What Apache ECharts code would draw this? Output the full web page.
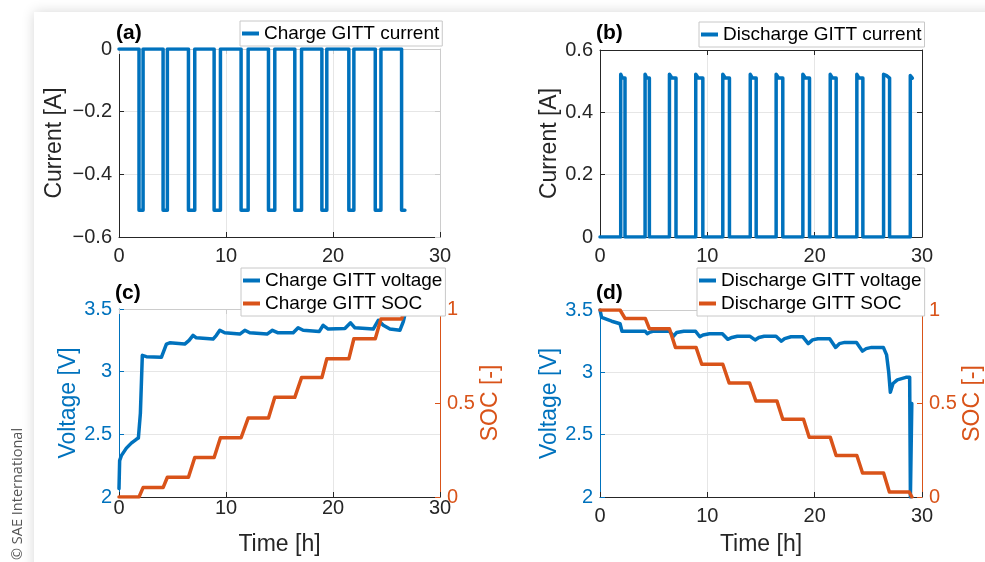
<!DOCTYPE html>
<html>
<head>
<meta charset="utf-8">
<script src="https://cdn.jsdelivr.net/npm/echarts@6/dist/echarts.min.js"></script>
<style>
  html, body { margin:0; padding:0; background:#ffffff; width:985px; height:562px; overflow:hidden; }
  #card { position:absolute; left:34px; top:12px; width:1000px; height:600px; background:#ffffff;
          box-shadow: 0 0 12px rgba(0,0,0,0.16); }
  #chart { position:absolute; left:0; top:0; width:985px; height:562px; }
</style>
</head>
<body>
<div id="card"></div>
<div id="chart"></div>
<script>
// ---------------- data (time in h) ----------------
const timeTicks = [0, 10, 20, 30];

const chargeCurrent = [
  [0,0],[1.87,0],[1.87,-0.515],[2.25,-0.515],[2.25,0],
  [4.12,0],[4.12,-0.515],[4.52,-0.515],[4.52,0],
  [6.49,0],[6.49,-0.515],[7.08,-0.515],[7.08,0],
  [8.89,0],[8.89,-0.515],[9.48,-0.515],[9.48,0],
  [11.41,0],[11.41,-0.515],[12.07,-0.515],[12.07,0],
  [13.97,0],[13.97,-0.515],[14.56,-0.515],[14.56,0],
  [16.43,0],[16.43,-0.515],[17.06,-0.515],[17.06,0],
  [18.96,0],[18.96,-0.515],[19.42,-0.515],[19.42,0],
  [21.48,0],[21.48,-0.515],[21.95,-0.515],[21.95,0],
  [23.95,0],[23.95,-0.515],[24.48,-0.515],[24.48,0],
  [26.41,0],[26.41,-0.515],[26.72,-0.515]
];

const dischargeCurrent = [
  [0,0],[1.93,0],[1.93,0.522],[2.08,0.51],[2.33,0.51],[2.33,0],
  [4.2,0],[4.2,0.522],[4.35,0.51],[4.6,0.51],[4.6,0],
  [6.47,0],[6.47,0.522],[6.7,0.51],[7.08,0.51],[7.08,0],
  [8.92,0],[8.92,0.522],[9.15,0.51],[9.58,0.51],[9.58,0],
  [11.44,0],[11.44,0.522],[11.67,0.51],[12.06,0.51],[12.06,0],
  [14.0,0],[14.0,0.522],[14.2,0.51],[14.55,0.51],[14.55,0],
  [16.41,0],[16.41,0.522],[16.64,0.51],[17.03,0.51],[17.03,0],
  [18.9,0],[18.9,0.522],[19.13,0.51],[19.52,0.51],[19.52,0],
  [21.45,0],[21.45,0.522],[21.66,0.51],[22.0,0.51],[22.0,0],
  [23.93,0],[23.93,0.522],[24.13,0.51],[24.49,0.51],[24.49,0],
  [26.42,0],[26.42,0.522],[26.7,0.518],[26.98,0.51],[26.98,0],
  [28.91,0],[28.91,0.518],[29.1,0.51]
];

const chargeVoltage = [
  [0,2.067],[0.06,2.29],[0.22,2.33],[0.69,2.39],[1.15,2.43],[1.62,2.46],[1.81,2.47],
  [2.0,2.67],[2.18,3.13],[2.3,3.14],[2.56,3.12],[3.96,3.115],[4.12,3.12],
  [4.43,3.22],[4.74,3.23],[6.14,3.22],[6.55,3.25],[6.92,3.29],[7.23,3.27],
  [8.79,3.26],[9.1,3.29],[9.42,3.33],[9.88,3.31],[11.29,3.30],[11.76,3.33],
  [12.22,3.31],[13.84,3.30],[14.34,3.33],[14.87,3.31],[16.28,3.31],[16.74,3.35],
  [17.21,3.33],[18.71,3.32],[19.08,3.37],[19.55,3.34],[21.11,3.345],[21.64,3.39],
  [22.05,3.35],[23.76,3.34],[24.23,3.41],[24.7,3.37],[25.32,3.34],[26.25,3.33],
  [26.57,3.40],[26.82,3.49]
];

const chargeSOC = [
  [0,0],[1.87,0],[2.25,0.05],[4.12,0.05],[4.52,0.105],[6.49,0.105],[7.08,0.21],
  [8.89,0.21],[9.48,0.315],[11.41,0.315],[12.07,0.42],[13.97,0.42],[14.56,0.53],
  [16.43,0.53],[17.06,0.635],[18.96,0.635],[19.42,0.735],[21.48,0.735],[21.95,0.842],
  [23.95,0.842],[24.48,0.947],[26.41,0.947],[26.72,1.0]
];

const dischargeVoltage = [
  [0,3.5],[0.15,3.44],[0.3,3.43],[1.09,3.41],[1.87,3.39],[1.93,3.37],[2.05,3.33],
  [4.2,3.33],[4.4,3.31],[4.6,3.32],[5.0,3.33],[6.45,3.33],[6.85,3.29],[7.15,3.32],
  [7.8,3.33],[8.9,3.33],[9.3,3.285],[9.6,3.30],[10.2,3.31],[11.4,3.31],[11.9,3.265],
  [12.3,3.28],[12.8,3.29],[13.95,3.29],[14.45,3.26],[14.8,3.28],[15.3,3.29],
  [16.4,3.29],[16.9,3.25],[17.2,3.27],[17.8,3.285],[18.9,3.285],[19.4,3.23],
  [19.8,3.26],[20.3,3.27],[21.4,3.27],[21.95,3.20],[22.3,3.23],[22.8,3.24],
  [23.9,3.24],[24.45,3.17],[24.8,3.19],[25.3,3.20],[26.4,3.20],[26.7,3.14],
  [26.9,3.0],[27.05,2.84],[27.3,2.91],[27.7,2.94],[28.5,2.96],[28.85,2.96],
  [28.92,2.0],[29.05,2.75]
];

const dischargeSOC = [
  [0,1],[1.87,1],[2.33,0.955],[4.22,0.955],[4.6,0.90],[6.47,0.90],[7.03,0.80],
  [8.95,0.80],[9.48,0.71],[11.44,0.71],[12.03,0.61],[13.93,0.61],[14.52,0.514],
  [16.48,0.514],[17.03,0.416],[18.96,0.416],[19.49,0.32],[21.45,0.32],[22.0,0.222],
  [23.93,0.222],[24.46,0.128],[26.42,0.128],[26.96,0.027],[28.81,0.027],[29.06,0]
];

const panelLabels = ['(a)', '(b)', '(c)', '(d)'];
const legendNames = [
  ['Charge GITT current'],
  ['Discharge GITT current'],
  ['Charge GITT voltage', 'Charge GITT SOC'],
  ['Discharge GITT voltage', 'Discharge GITT SOC']
];

// ---------------- styling ----------------
const FONT = '"Liberation Sans", Arial, Helvetica, sans-serif';
const BLUE = '#0072BD';
const ORANGE = '#D95319';
const DARK = '#262626';
const LIGHT = '#cccccc';
const GRID = '#e6e6e6';

const fmt = v => String(+(+v).toFixed(2)).replace('-', '\u2212');

const grids = [
  { left: 119, top: 49, width: 321, height: 188 },
  { left: 600, top: 50, width: 322, height: 187 },
  { left: 119, top: 309, width: 321, height: 188 },
  { left: 600, top: 310, width: 322, height: 187 }
];

function xBottom(gi, margin, name) {
  return {
    type: 'value', gridIndex: gi, position: 'bottom', min: timeTicks[0], max: timeTicks[timeTicks.length - 1], interval: 10,
    axisLine: { show: true, onZero: false, lineStyle: { color: DARK, width: 1 } },
    axisTick: { show: true, inside: true, length: 5, lineStyle: { color: DARK } },
    axisLabel: { color: DARK, fontSize: 20, fontFamily: FONT, margin: margin },
    splitLine: { show: true, lineStyle: { color: GRID, width: 1 } },
    name: name || '', nameLocation: 'middle', nameGap: 36,
    nameTextStyle: { color: DARK, fontSize: 23, fontFamily: FONT }
  };
}
function xTop(gi, color) {
  return {
    type: 'value', gridIndex: gi, position: 'top', min: 0, max: 30, interval: 10,
    axisLine: { show: true, onZero: false, lineStyle: { color: color, width: 1 } },
    axisTick: { show: true, inside: true, length: 5, lineStyle: { color: color } },
    axisLabel: { show: false }, splitLine: { show: false }
  };
}
function yAxis(gi, pos, min, max, interval, color, name, nameGap, showLabels, split) {
  return {
    type: 'value', gridIndex: gi, position: pos, min: min, max: max, interval: interval,
    axisLine: { show: true, onZero: false, lineStyle: { color: color, width: 1 } },
    axisTick: { show: true, inside: true, length: 5, lineStyle: { color: color } },
    axisLabel: { show: showLabels, color: color, fontSize: 20, fontFamily: FONT, margin: 7, formatter: fmt },
    splitLine: { show: split, lineStyle: { color: GRID, width: 1 } },
    name: name || '', nameLocation: 'middle', nameGap: nameGap,
    nameTextStyle: { color: color, fontSize: 23, fontFamily: FONT }
  };
}

function lineSeries(name, data, xi, yi, color, z) {
  return {
    type: 'line', name: name, data: data, xAxisIndex: xi, yAxisIndex: yi,
    showSymbol: false, symbol: 'none', animation: false, z: z,
    lineStyle: { color: color, width: 3.5, cap: 'round', join: 'round' },
    itemStyle: { color: color }
  };
}

function legend(names, left, top) {
  return {
    data: names, left: left, top: top, orient: 'vertical',
    icon: 'rect', itemWidth: 17, itemHeight: 4, itemGap: 4, itemTextGap: 2,
    padding: [3, 3, 3, 2], backgroundColor: '#ffffff', borderColor: '#c8c8c8', borderWidth: 1,
    borderRadius: 0, selectedMode: false, z: 10,
    textStyle: { color: '#000000', fontSize: 19, fontFamily: FONT }
  };
}

const labelPos = [[116, 33], [596, 33], [115, 293], [596, 293]];

const option = {
  backgroundColor: 'transparent',
  animation: false,
  grid: grids.map(g => Object.assign({ containLabel: false }, g)),
  xAxis: [
    xBottom(0, 9), xTop(0, LIGHT),
    xBottom(1, 9), xTop(1, DARK),
    xBottom(2, 1, 'Time [h]'), xTop(2, LIGHT),
    xBottom(3, 9, 'Time [h]'), xTop(3, LIGHT)
  ],
  yAxis: [
    yAxis(0, 'left', -0.6, 0, 0.2, DARK, 'Current [A]', 53, true, true),
    yAxis(0, 'right', -0.6, 0, 0.2, LIGHT, '', 0, false, false),
    yAxis(1, 'left', 0, 0.6, 0.2, DARK, 'Current [A]', 34, true, true),
    yAxis(1, 'right', 0, 0.6, 0.2, DARK, '', 0, false, false),
    yAxis(2, 'left', 2, 3.5, 0.5, BLUE, 'Voltage [V]', 37, true, true),
    yAxis(2, 'right', 0, 1, 0.5, ORANGE, 'SOC [-]', 39, true, false),
    yAxis(3, 'left', 2, 3.5, 0.5, BLUE, 'Voltage [V]', 35, true, true),
    yAxis(3, 'right', 0, 1, 0.5, ORANGE, 'SOC [-]', 38, true, false)
  ],
  legend: [
    legend(legendNames[0], 240, 21),
    legend(legendNames[1], 699, 22),
    legend(legendNames[2], 241, 268),
    legend(legendNames[3], 697, 268)
  ],
  series: [
    lineSeries(legendNames[0][0], chargeCurrent, 0, 0, BLUE, 2),
    lineSeries(legendNames[1][0], dischargeCurrent, 2, 2, BLUE, 2),
    lineSeries(legendNames[2][0], chargeVoltage, 4, 4, BLUE, 2),
    lineSeries(legendNames[2][1], chargeSOC, 4, 5, ORANGE, 3),
    lineSeries(legendNames[3][0], dischargeVoltage, 6, 6, BLUE, 2),
    lineSeries(legendNames[3][1], dischargeSOC, 6, 7, ORANGE, 3)
  ],
  graphic: panelLabels.map((t, i) => ({
    type: 'text', x: labelPos[i][0], y: labelPos[i][1], z: 20,
    style: { text: t, fill: '#000000', font: 'bold 21px ' + FONT, textAlign: 'left', textVerticalAlign: 'middle' }
  })).concat([{
    type: 'text', x: 18, y: 560, rotation: Math.PI / 2, z: 20,
    style: { text: '\u00A9 SAE International', fill: '#555555', font: '14.5px "Open Sans", "DejaVu Sans", sans-serif',
             textAlign: 'left', textVerticalAlign: 'middle' }
  }])
};

const chart = echarts.init(document.getElementById('chart'), null, { renderer: 'canvas' });
chart.setOption(option);
</script>
</body>
</html>
